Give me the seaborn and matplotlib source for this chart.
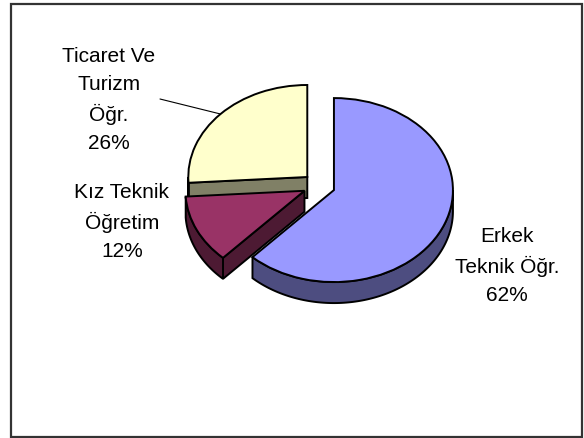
import numpy as np
import matplotlib
matplotlib.use("Agg")
import matplotlib.pyplot as plt
from matplotlib.patches import Polygon, Rectangle
import seaborn as sns

# data
labels = ["Erkek\nTeknik Öğr.", "Kız Teknik\nÖğretim", "Ticaret Ve\nTurizm\nÖğr."]
shares = [62, 12, 26]
top_colors = ["#9999FF", "#993366", "#FFFFCC"]
side_colors = ["#4D4D80", "#4D1A33", "#808066"]
label_pos = [(507, 266), (122, 222), (109, 100)]   # pixel centres of labels

sns.set_theme(style="white")
plt.rcParams["font.family"] = ["Liberation Sans", "DejaVu Sans"]

W, H = 584, 439
fig = plt.figure(figsize=(W / 100, H / 100), dpi=100)
ax = fig.add_axes([0, 0, 1, 1])

wedges, _ = ax.pie(shares, startangle=90, counterclock=False,
                   explode=[0.135] * 3, colors=top_colors,
                   wedgeprops=dict(edgecolor="black", linewidth=1.4))

# pie centre / radius in pixels -> elliptical look via axis limits
cx, cy, rx, ry = 319, 186.5, 119, 92
ax.set_aspect("auto")
ax.set_xlim(-cx / rx, (W - cx) / rx)
ax.set_ylim(-(H - cy) / ry, cy / ry)
ax.axis("off")

depth = 21 / ry

# fake 3d sides, back wedges first
order = np.argsort([-w.center[1] for w in wedges])
for rank, i in enumerate(order):
    w = wedges[i]
    c = np.array(w.center)
    r = w.r
    t1, t2 = w.theta1, w.theta2
    z = 2 + rank
    w.set_zorder(z + 0.5)
    faces = []
    for a, nrm in ((t1, t1 - 90), (t2, t2 + 90)):
        if np.sin(np.radians(nrm)) < -1e-6:
            p = c + r * np.array([np.cos(np.radians(a)), np.sin(np.radians(a))])
            faces.append([c, p, p - [0, depth], c - [0, depth]])
    for k in range(-2, 2):
        lo, hi = max(t1, 180 + 360 * k), min(t2, 360 + 360 * k)
        if hi > lo:
            t = np.radians(np.linspace(lo, hi, 120))
            arc = c + r * np.column_stack([np.cos(t), np.sin(t)])
            faces.append(np.vstack([arc, (arc - [0, depth])[::-1]]))
    for f in faces:
        ax.add_patch(Polygon(f, closed=True, facecolor=side_colors[i],
                             edgecolor="black", linewidth=1.4, zorder=z))

for lab, s, (px, py) in zip(labels, shares, label_pos):
    fig.text(px / W, 1 - py / H, f"{lab}\n{s}%", ha="center", va="center",
             multialignment="center", fontsize=15, linespacing=1.58,
             color="black")

# leader line for Ticaret label
w = wedges[2]
m = np.radians((w.theta1 + w.theta2) / 2)
end = np.array(w.center) + w.r * np.array([np.cos(m), np.sin(m)])
ax.annotate("", xy=end, xycoords="data", xytext=(160 / W, 1 - 100 / H),
            textcoords="figure fraction",
            arrowprops=dict(arrowstyle="-", color="black", lw=0.8,
                            shrinkA=0, shrinkB=0))

fig.patches.append(Rectangle((11 / W, 1 / H), 571 / W, 433 / H,
                             transform=fig.transFigure, fill=False,
                             edgecolor="#333333", linewidth=1.6))

fig.savefig("out.png", dpi=100)
